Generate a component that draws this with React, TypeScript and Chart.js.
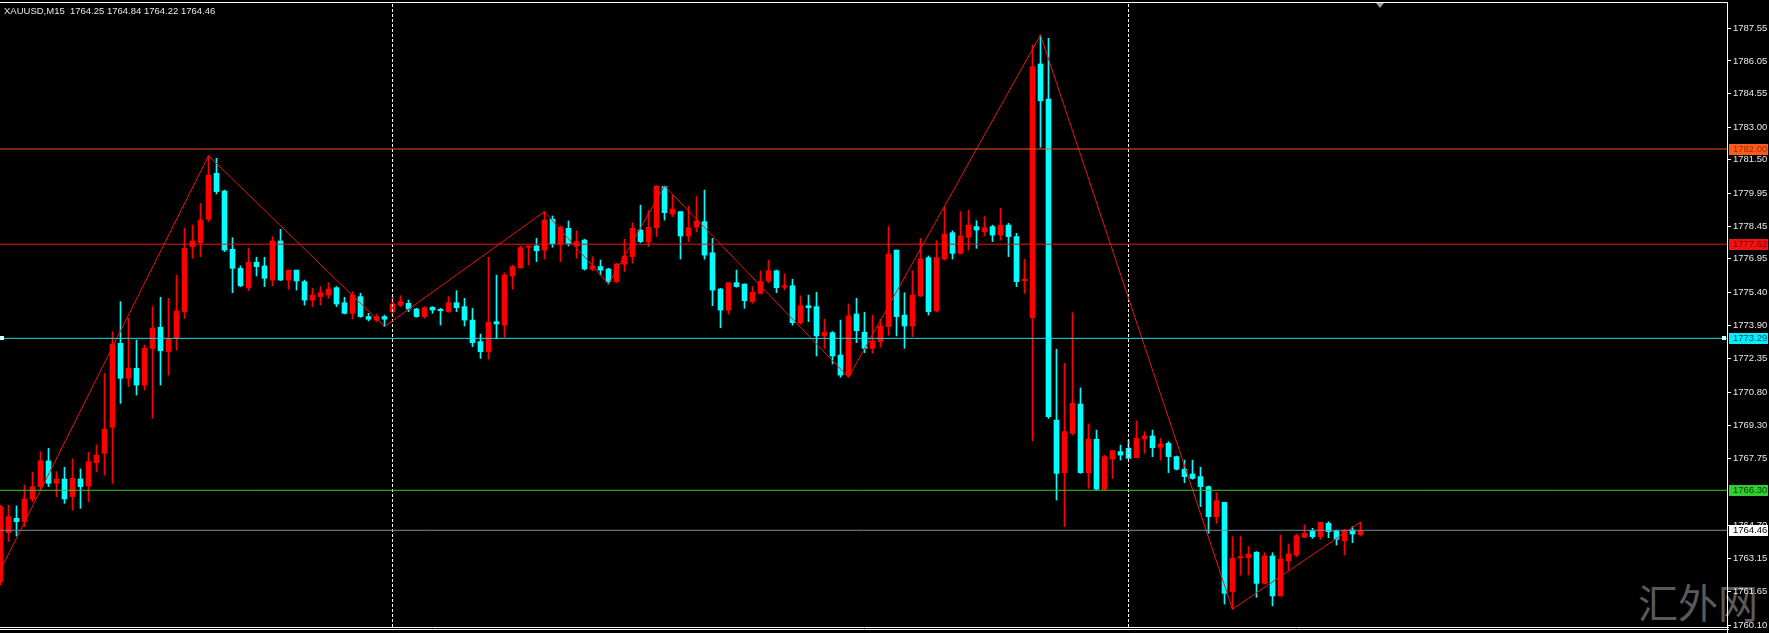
import React, { useEffect, useRef } from "react";
import { Chart, registerables } from "chart.js";

Chart.register(...registerables);

const titleText = "XAUUSD,M15  1764.25 1764.84 1764.22 1764.46";
const watermarkText = "汇外网";

// OHLC per 15-minute bar, oldest first
const opens = [
  1762.10, 1764.35, 1765.01, 1764.86, 1765.89, 1766.47, 1767.65, 1766.62, 1766.82, 1766.01,
  1766.82, 1766.50, 1767.57, 1768.00, 1769.20, 1773.06, 1771.45, 1771.91, 1771.14, 1772.83,
  1773.80, 1772.68, 1773.32, 1774.52, 1777.51, 1777.69, 1778.77, 1780.88, 1780.07, 1777.39,
  1776.51, 1775.62, 1776.79, 1776.62, 1775.97, 1777.77, 1775.97, 1776.43, 1775.90, 1775.05,
  1775.21, 1775.28, 1775.62, 1774.93, 1774.44, 1775.21, 1774.29, 1774.13, 1774.29, 1774.52,
  1774.82, 1774.90, 1774.64, 1774.29, 1774.72, 1774.63, 1774.52, 1774.93, 1774.75, 1774.13,
  1773.14, 1772.68, 1774.06, 1773.90, 1776.16, 1776.54, 1777.48, 1777.54, 1777.35, 1778.77,
  1777.63, 1778.35, 1777.54, 1777.81, 1776.47, 1776.59, 1776.48, 1775.90, 1776.70, 1777.05,
  1778.27, 1777.74, 1778.38, 1780.27, 1779.01, 1779.12, 1778.00, 1778.40, 1778.66, 1777.23,
  1775.56, 1774.59, 1775.85, 1775.79, 1774.98, 1775.36, 1775.93, 1776.40, 1775.64, 1775.71,
  1774.01, 1774.79, 1774.75, 1773.40, 1773.55, 1772.52, 1771.60, 1774.41, 1773.57, 1772.83,
  1773.14, 1773.83, 1777.35, 1774.36, 1773.86, 1775.24, 1777.00, 1774.55, 1776.94, 1778.15,
  1777.20, 1777.94, 1778.43, 1778.20, 1778.43, 1778.04, 1778.50, 1777.97, 1775.94, 1774.24,
  1785.91, 1784.30, 1769.53, 1767.11, 1768.92, 1770.27, 1767.11, 1768.65, 1766.35, 1767.74,
  1768.08, 1768.23, 1767.80, 1768.66, 1768.80, 1768.28, 1768.46, 1767.85, 1767.27, 1767.05,
  1766.93, 1766.47, 1765.09, 1765.75, 1761.64, 1763.19, 1763.20, 1763.45, 1762.02, 1763.28,
  1761.44, 1763.05, 1763.32, 1764.14, 1764.43, 1764.17, 1764.78, 1764.44, 1763.98, 1764.47,
  1764.25,
];
const highs = [
  1765.62, 1765.62, 1765.58, 1766.54, 1767.13, 1768.08, 1768.23, 1767.16, 1767.36, 1767.74,
  1767.28, 1768.05, 1768.38, 1771.68, 1773.60, 1774.98, 1774.21, 1773.21, 1772.98, 1774.75,
  1775.18, 1775.13, 1776.20, 1778.35, 1778.50, 1779.50, 1781.69, 1781.57, 1780.11, 1777.92,
  1776.62, 1777.43, 1777.02, 1777.02, 1777.97, 1778.31, 1776.43, 1776.43, 1775.97, 1775.59,
  1775.67, 1775.85, 1775.67, 1775.18, 1775.44, 1775.36, 1774.44, 1774.41, 1774.36, 1775.25,
  1775.25, 1775.05, 1774.67, 1774.75, 1774.75, 1774.67, 1775.21, 1775.48, 1775.13, 1774.67,
  1773.49, 1777.02, 1776.20, 1776.31, 1776.66, 1777.54, 1777.54, 1777.89, 1779.12, 1778.92,
  1778.46, 1778.69, 1778.24, 1777.85, 1777.05, 1776.89, 1776.51, 1776.74, 1777.85, 1778.61,
  1779.42, 1779.16, 1780.30, 1780.30, 1779.88, 1779.12, 1779.38, 1779.81, 1780.11, 1777.89,
  1775.59, 1775.85, 1776.43, 1775.79, 1775.67, 1776.39, 1776.89, 1776.43, 1776.25, 1776.01,
  1775.24, 1775.28, 1775.41, 1774.17, 1773.60, 1774.13, 1774.87, 1775.13, 1774.49, 1774.36,
  1774.17, 1778.43, 1777.35, 1775.39, 1776.40, 1777.89, 1777.08, 1777.78, 1779.32, 1778.24,
  1779.12, 1779.19, 1778.70, 1778.89, 1778.50, 1779.27, 1778.58, 1778.12, 1776.93, 1786.78,
  1787.24, 1787.09, 1772.79, 1772.14, 1774.47, 1771.01, 1769.35, 1769.07, 1767.92, 1768.12,
  1768.38, 1768.61, 1769.50, 1769.00, 1769.07, 1768.69, 1768.54, 1767.88, 1767.69, 1767.69,
  1767.36, 1766.50, 1766.19, 1765.75, 1764.17, 1764.17, 1763.71, 1763.48, 1763.43, 1763.43,
  1764.24, 1763.83, 1764.29, 1764.70, 1764.55, 1764.83, 1764.86, 1764.47, 1764.51, 1764.63,
  1764.84,
];
const lows = [
  1761.94, 1763.94, 1764.20, 1764.63, 1765.78, 1766.35, 1766.47, 1766.01, 1765.70, 1765.39,
  1765.47, 1765.78, 1767.16, 1767.00, 1766.62, 1770.30, 1771.07, 1770.68, 1770.91, 1769.61,
  1771.14, 1771.60, 1772.75, 1774.21, 1776.97, 1777.05, 1778.66, 1779.93, 1777.28, 1775.39,
  1775.67, 1775.48, 1776.16, 1775.67, 1775.71, 1775.95, 1775.55, 1775.51, 1774.82, 1774.75,
  1774.82, 1775.13, 1774.75, 1774.41, 1774.18, 1774.26, 1774.09, 1774.06, 1773.83, 1774.29,
  1774.75, 1774.52, 1774.26, 1774.21, 1774.44, 1773.90, 1774.49, 1774.52, 1773.86, 1772.91,
  1772.37, 1772.33, 1773.29, 1773.34, 1775.55, 1776.51, 1776.66, 1776.82, 1776.94, 1777.48,
  1776.82, 1777.54, 1776.97, 1776.43, 1776.40, 1776.20, 1775.79, 1775.85, 1776.36, 1776.74,
  1777.69, 1777.51, 1777.97, 1778.73, 1778.89, 1776.94, 1777.74, 1778.20, 1776.93, 1774.79,
  1773.78, 1774.40, 1775.64, 1774.67, 1774.90, 1775.33, 1775.85, 1775.39, 1775.51, 1773.90,
  1773.94, 1774.06, 1772.48, 1772.83, 1772.11, 1771.50, 1771.50, 1773.09, 1772.63, 1772.60,
  1772.88, 1773.44, 1773.40, 1772.83, 1773.37, 1775.21, 1774.36, 1774.52, 1776.89, 1776.94,
  1777.17, 1777.35, 1777.43, 1778.00, 1777.74, 1777.81, 1777.05, 1775.67, 1775.36, 1768.58,
  1782.08, 1769.61, 1765.85, 1764.63, 1768.84, 1767.08, 1766.39, 1766.31, 1766.31, 1766.85,
  1767.69, 1767.77, 1767.80, 1768.00, 1767.85, 1767.69, 1767.11, 1767.23, 1766.65, 1766.81,
  1765.55, 1764.32, 1764.78, 1761.07, 1760.83, 1762.40, 1762.40, 1761.38, 1761.99, 1760.98,
  1761.44, 1762.63, 1763.25, 1764.14, 1764.09, 1764.05, 1764.12, 1763.78, 1763.32, 1763.89,
  1764.22,
];
const closes = [
  1765.55, 1765.09, 1764.86, 1765.90, 1766.47, 1767.66, 1766.62, 1766.82, 1765.90, 1766.85,
  1766.47, 1767.62, 1767.92, 1769.12, 1773.03, 1771.45, 1771.91, 1771.14, 1772.83, 1773.75,
  1772.72, 1773.25, 1774.55, 1777.43, 1777.77, 1778.73, 1780.80, 1780.04, 1777.35, 1776.51,
  1775.71, 1776.79, 1776.59, 1776.05, 1777.77, 1775.97, 1776.43, 1775.93, 1775.05, 1775.28,
  1775.39, 1775.56, 1774.87, 1774.44, 1775.28, 1774.29, 1774.17, 1774.29, 1774.17, 1774.87,
  1774.98, 1774.64, 1774.29, 1774.70, 1774.59, 1774.56, 1774.93, 1774.70, 1774.13, 1773.09,
  1772.68, 1774.03, 1773.95, 1776.20, 1776.59, 1777.46, 1777.54, 1777.32, 1778.73, 1777.63,
  1778.40, 1777.66, 1777.74, 1776.48, 1776.62, 1776.43, 1775.90, 1776.71, 1777.08, 1778.35,
  1777.74, 1778.40, 1780.30, 1779.07, 1779.24, 1778.00, 1778.38, 1778.69, 1777.12, 1775.51,
  1774.59, 1775.85, 1775.67, 1775.02, 1775.41, 1775.90, 1776.40, 1775.62, 1775.71, 1774.01,
  1774.79, 1774.70, 1773.40, 1773.57, 1772.48, 1771.60, 1774.32, 1773.64, 1772.83, 1773.17,
  1773.86, 1777.17, 1774.29, 1773.86, 1775.28, 1776.94, 1774.52, 1777.00, 1778.09, 1777.20,
  1778.00, 1778.50, 1778.27, 1778.38, 1778.04, 1778.50, 1777.97, 1775.90, 1776.01, 1785.79,
  1784.22, 1769.69, 1767.08, 1769.00, 1770.30, 1767.11, 1768.65, 1766.35, 1767.85, 1768.12,
  1767.92, 1767.77, 1768.69, 1768.80, 1768.26, 1768.43, 1767.85, 1767.27, 1766.93, 1766.85,
  1766.47, 1765.09, 1765.82, 1761.56, 1763.17, 1763.25, 1763.37, 1762.02, 1763.29, 1761.44,
  1763.14, 1763.37, 1764.21, 1764.32, 1764.17, 1764.83, 1764.40, 1764.05, 1764.44, 1764.29,
  1764.46,
];

// ZigZag indicator turning points (bar index, price)
const zigzagBars = [-1, 26, 48, 68, 76, 83, 106, 130, 154, 170];
const zigzagPrices = [1761.9, 1781.69, 1773.83, 1779.12, 1775.79, 1780.3, 1771.5, 1787.24, 1760.83, 1764.84];

// Day separators (bar index)
const separatorBars = [49, 141];

// Horizontal price levels
const levelPrices = [1782.0, 1777.62, 1773.29, 1766.3, 1764.46];

// Price-axis tick labels
const axisTicks = [
  1787.55, 1786.05, 1784.55, 1783.0, 1781.5, 1779.95, 1778.45, 1776.95, 1775.4,
  1773.9, 1772.35, 1770.8, 1769.3, 1767.75, 1764.7, 1763.15, 1761.65, 1760.1,
];

// ---- styles / view window ----
const Y_MIN = 1760.012;
const Y_MAX = 1788.762;
const X_MIN = -0.0625;
const X_MAX = 215.8125;
const BULL = "#ff0000";
const BEAR = "#00ffff";
const levelLine = ["#f0561e", "#ee1414", "#18dde6", "#38c838", "#7f8c9c"];
const levelBox = ["#ff5a1e", "#f21212", "#00f0ff", "#32cd32", "#ffffff"];
const levelText = ["#9a2a00", "#7a0000", "#004f5e", "#0b420b", "#000000"];
const FONT = '"Liberation Sans", Arial, sans-serif';

const overlayPlugin = {
  id: "mt4overlay",
  afterDraw(chart: any) {
    const { ctx, chartArea, scales } = chart;
    const ys = scales.y;
    const R = chartArea.right;
    ctx.save();
    ctx.strokeStyle = "#ffffff";
    ctx.lineWidth = 1;
    ctx.beginPath();
    ctx.moveTo(0, chartArea.top + 0.5);
    ctx.lineTo(R + 1, chartArea.top + 0.5);
    ctx.moveTo(0, chartArea.bottom + 0.5);
    ctx.lineTo(R + 2, chartArea.bottom + 0.5);
    ctx.moveTo(0, chartArea.bottom + 2.5);
    ctx.lineTo(R + 2, chartArea.bottom + 2.5);
    ctx.moveTo(R + 0.5, chartArea.top);
    ctx.lineTo(R + 0.5, chart.height);
    ctx.stroke();

    // shift marker
    ctx.fillStyle = "#9a9a9a";
    ctx.beginPath();
    ctx.moveTo(1376, 3);
    ctx.lineTo(1384, 3);
    ctx.lineTo(1380, 8);
    ctx.closePath();
    ctx.fill();

    // handles of selected cyan line
    const yc = Math.round(ys.getPixelForValue(levelPrices[2]));
    ctx.fillStyle = "#d8ffff";
    ctx.fillRect(0, yc - 2, 4, 4);
    ctx.fillRect(1722, yc - 2, 4, 4);

    // price labels of levels
    ctx.font = `9.5px ${FONT}`;
    ctx.textBaseline = "middle";
    ctx.textAlign = "left";
    levelPrices.forEach((p, i) => {
      const yy = Math.round(ys.getPixelForValue(p));
      ctx.fillStyle = levelBox[i];
      ctx.fillRect(R + 2, yy - 5, 39, 11);
      ctx.fillStyle = levelText[i];
      ctx.fillText(p.toFixed(2), R + 6, yy + 0.5);
    });
    ctx.restore();
  },
};

export default function App() {
  const ref = useRef<HTMLCanvasElement | null>(null);

  useEffect(() => {
    if (!ref.current) return;
    const idx = opens.map((_, i) => i);
    const colors = idx.map((i) => (closes[i] >= opens[i] ? BULL : BEAR));

    const datasets: any[] = [];
    levelPrices.forEach((p, i) => {
      datasets.push({
        type: "line",
        data: [
          { x: X_MIN, y: p },
          { x: X_MAX, y: p },
        ],
        borderColor: levelLine[i],
        borderWidth: 1,
        pointRadius: 0,
        order: 0,
      });
    });
    datasets.push({
      type: "line",
      data: zigzagBars.map((b, i) => ({ x: b, y: zigzagPrices[i] })),
      borderColor: "#ee1111",
      borderWidth: 1,
      pointRadius: 0,
      tension: 0,
      order: 1,
    });
    separatorBars.forEach((b) => {
      datasets.push({
        type: "line",
        data: [
          { x: b, y: Y_MIN },
          { x: b, y: Y_MAX },
        ],
        borderColor: "#ffffff",
        borderWidth: 1,
        borderDash: [3, 2],
        pointRadius: 0,
        order: 2,
      });
    });
    datasets.push({
      type: "bar",
      data: idx.map((i) => ({ x: i, y: [Math.min(opens[i], closes[i]), Math.max(opens[i], closes[i])] })),
      backgroundColor: colors,
      borderWidth: 0,
      barThickness: 5,
      minBarLength: 1,
      grouped: false,
      order: 3,
    });
    datasets.push({
      type: "bar",
      data: idx.map((i) => ({ x: i, y: [lows[i], highs[i]] })),
      backgroundColor: colors,
      borderWidth: 0,
      barThickness: 1,
      minBarLength: 1,
      grouped: false,
      order: 4,
    });

    const chart = new Chart(ref.current, {
      type: "bar",
      data: { datasets },
      options: {
        responsive: false,
        animation: false,
        events: [],
        layout: { padding: { top: 2, bottom: 6, left: 0, right: 0 } },
        plugins: { legend: { display: false }, tooltip: { enabled: false }, title: { display: false } },
        scales: {
          x: {
            type: "linear",
            min: X_MIN,
            max: X_MAX,
            offset: false,
            display: false,
            grid: { display: false },
          },
          y: {
            type: "linear",
            position: "right",
            min: Y_MIN,
            max: Y_MAX,
            afterBuildTicks: (s: any) => {
              s.ticks = axisTicks.map((v) => ({ value: v }));
            },
            afterFit: (s: any) => {
              s.width = 42;
              s.paddingTop = 0;
              s.paddingBottom = 0;
            },
            ticks: {
              autoSkip: false,
              padding: 2,
              color: "#e8e8e8",
              font: { family: FONT, size: 9.5 },
              callback: (v: any) => Number(v).toFixed(2),
            },
            grid: { drawOnChartArea: false, drawTicks: true, tickLength: 4, color: "#ffffff" },
            border: { display: true, color: "#ffffff", width: 1 },
          },
        },
      } as any,
      plugins: [overlayPlugin],
    });
    return () => chart.destroy();
  }, []);

  return (
    <div style={{ position: "fixed", left: 0, top: 0, width: 1769, height: 633, background: "#000", overflow: "hidden" }}>
      <div
        style={{
          position: "absolute",
          left: 1638,
          top: 581,
          fontFamily: '"Noto Sans CJK SC", sans-serif',
          fontSize: 40,
          lineHeight: "40px",
          color: "#5a5a5a",
          whiteSpace: "pre",
        }}
      >
        {watermarkText}
      </div>
      <canvas ref={ref} width={1769} height={633} style={{ position: "absolute", left: 0, top: 0, width: 1769, height: 633 }} />
      <div
        style={{
          position: "absolute",
          left: 4,
          top: 5,
          fontFamily: FONT,
          fontSize: 9.5,
          lineHeight: "11px",
          color: "#e6e6e6",
          whiteSpace: "pre",
        }}
      >
        {titleText}
      </div>
    </div>
  );
}
